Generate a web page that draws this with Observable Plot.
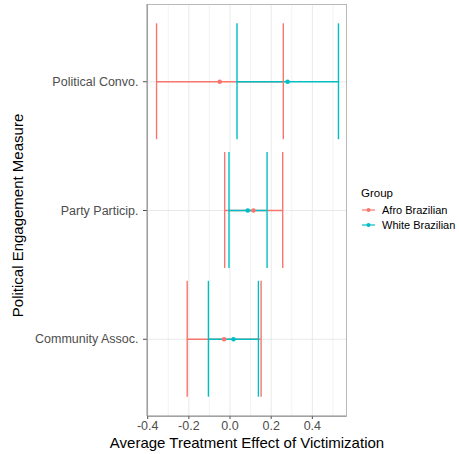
<!DOCTYPE html>
<html>
<head>
<meta charset="utf-8">
<script src="https://cdn.jsdelivr.net/npm/d3@7"></script>
<script src="https://cdn.jsdelivr.net/npm/@observablehq/plot@0.6"></script>
<style>
  html, body { margin: 0; padding: 0; background: #fff; }
  #wrap { position: relative; width: 459px; height: 454px; font-family: "Liberation Sans", Arial, sans-serif; }
  #legend { position: absolute; left: 361px; top: 187px; font-family: "Liberation Sans", Arial, sans-serif; }
  #legend .title { font-size: 11.5px; color: #000; margin-bottom: 3px; }
  #legend .row { display: flex; align-items: center; height: 15px; font-size: 11px; color: #000; }
  #legend svg { margin-right: 5px; }
</style>
</head>
<body>
<div id="wrap"></div>
<script>
// Categories (bottom to top, as in the reference)
const measures = ["Community Assoc.", "Party Particip.", "Political Convo."];
const groups = ["Afro Brazilian", "White Brazilian"];
const groupColors = ["#F8766D", "#00BFC4"];

// Afro Brazilian estimates and intervals
const afroEst = [-0.029, 0.114, -0.050];
const afroLo  = [-0.208, -0.026, -0.357];
const afroHi  = [0.151, 0.256, 0.259];

// White Brazilian estimates and intervals
const whiteEst = [0.017, 0.086, 0.280];
const whiteLo  = [-0.105, -0.005, 0.034];
const whiteHi  = [0.138, 0.180, 0.527];

// Axis ticks
const xTicks = [-0.4, -0.2, 0.0, 0.2, 0.4];
const xMinor = [-0.3, -0.1, 0.1, 0.3, 0.5];
const xTickLabels = ["-0.4", "-0.2", "0.0", "0.2", "0.4"];

const xTitle = "Average Treatment Effect of Victimization";
const yTitle = "Political Engagement Measure";
const legendTitle = "Group";

const rows = [];
measures.forEach((m, i) => {
  rows.push({measure: m, idx: i + 1, group: groups[0], est: afroEst[i], lo: afroLo[i], hi: afroHi[i]});
});
measures.forEach((m, i) => {
  rows.push({measure: m, idx: i + 1, group: groups[1], est: whiteEst[i], lo: whiteLo[i], hi: whiteHi[i]});
});
const half = 0.45;

const font = "Liberation Sans, Arial, sans-serif";

const chart = Plot.plot({
  width: 459,
  height: 454,
  marginLeft: 147,
  marginRight: 113,
  marginTop: 4,
  marginBottom: 38,
  style: {fontFamily: font, background: "#fff"},
  x: {domain: [-0.401, 0.566], ticks: xTicks},
  y: {domain: [0.4, 3.6]},
  color: {domain: groups, range: groupColors},
  marks: [
    Plot.gridX(xMinor, {stroke: "#ebebeb", strokeOpacity: 1, strokeWidth: 0.6}),
    Plot.gridX(xTicks, {stroke: "#e3e3e3", strokeOpacity: 1, strokeWidth: 0.8}),
    Plot.gridY([1, 2, 3], {stroke: "#e3e3e3", strokeOpacity: 1, strokeWidth: 0.8}),
    Plot.frame({stroke: "#b8b8b8", strokeWidth: 1}),
    // horizontal error bar lines
    Plot.ruleY(rows, {y: "idx", x1: "lo", x2: "hi", stroke: "group", strokeWidth: 1.3}),
    // whiskers
    Plot.ruleX(rows, {x: "lo", y1: d => d.idx - half, y2: d => d.idx + half, stroke: "group", strokeWidth: 1.4}),
    Plot.ruleX(rows, {x: "hi", y1: d => d.idx - half, y2: d => d.idx + half, stroke: "group", strokeWidth: 1.4}),
    Plot.dot(rows, {x: "est", y: "idx", fill: "group", r: 2.3}),
    Plot.axisX({ticks: xTicks, tickFormat: (d, i) => xTickLabels[i], label: null, tickSize: 3, tickPadding: 2,
      fontSize: 12.5, color: "#4d4d4d", stroke: "#4d4d4d"}),
    Plot.axisY({ticks: [1, 2, 3], tickFormat: d => measures[d - 1], label: null, tickSize: 4, tickPadding: 5,
      fontSize: 12.5, color: "#4d4d4d", stroke: "#4d4d4d"}),
    Plot.text([xTitle], {frameAnchor: "bottom", text: d => d, dy: 27, fontSize: 15, fill: "#000", lineAnchor: "middle"}),
    Plot.text([yTitle], {frameAnchor: "left", text: d => d, dx: -129, dy: 5, rotate: -90, fontSize: 15, fill: "#000",
      textAnchor: "middle", lineAnchor: "middle"})
  ]
});

// left and bottom axis lines, darker than the panel border
const wrap = document.getElementById("wrap");
wrap.appendChild(chart);
const svg = d3.select(chart);
svg.append("line").attr("x1", 147).attr("x2", 147).attr("y1", 4).attr("y2", 416).attr("stroke", "#8c8c8c").attr("stroke-width", 1);
svg.append("line").attr("x1", 147).attr("x2", 346).attr("y1", 416).attr("y2", 416).attr("stroke", "#8c8c8c").attr("stroke-width", 1);

// legend
const lg = document.createElement("div");
lg.id = "legend";
let html = `<div class="title">${legendTitle}</div>`;
groups.forEach((g, i) => {
  html += `<div class="row"><svg width="16" height="10"><line x1="1" x2="14" y1="5" y2="5" stroke="${groupColors[i]}" stroke-width="1.2"/><circle cx="7.5" cy="5" r="2" fill="${groupColors[i]}"/></svg><span>${g}</span></div>`;
});
lg.innerHTML = html;
wrap.appendChild(lg);
</script>
</body>
</html>
